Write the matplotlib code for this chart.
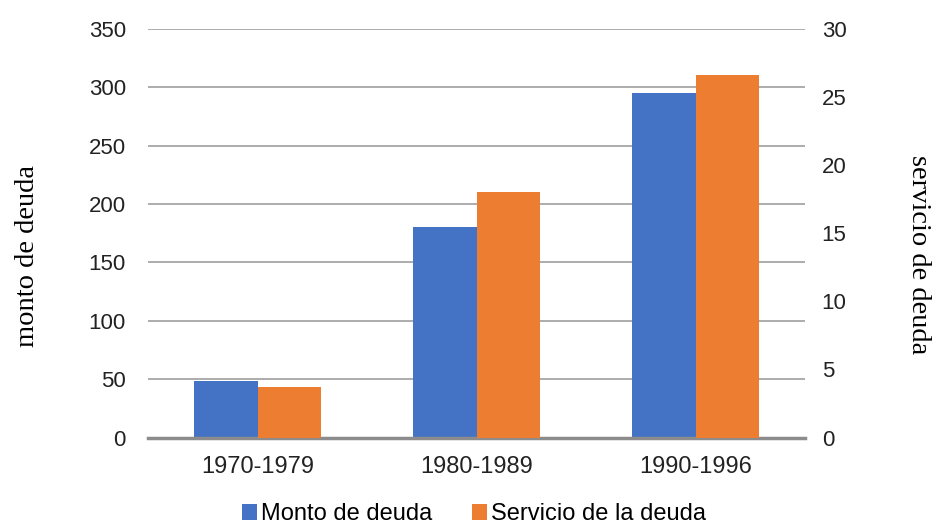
import matplotlib
matplotlib.use("Agg")
import matplotlib.pyplot as plt
import numpy as np

categories = ["1970-1979", "1980-1989", "1990-1996"]
monto = [48, 180, 295]
servicio = [3.7, 18.0, 26.6]
left_ticks = [0, 50, 100, 150, 200, 250, 300, 350]
right_ticks = [0, 5, 10, 15, 20, 25, 30]

blue = "#4472C4"
orange = "#ED7D31"

W, H = 932, 527
fig = plt.figure(figsize=(W/100, H/100), dpi=100)
ax = fig.add_axes([148/W, 1-437.5/H, (805-148)/W, (437.5-29)/H])
ax2 = ax.twinx()

x = np.arange(len(categories))
w = 0.288
ax.bar(x - w/2, monto, width=w, color=blue, label="Monto de deuda", zorder=3)
ax2.bar(x + w/2, servicio, width=w, color=orange, label="Servicio de la deuda", zorder=3)

ax.set_xlim(-0.5, 2.5)
ax.set_ylim(0, 350)
ax2.set_ylim(0, 30)
ax.set_yticks(left_ticks)
ax2.set_yticks(right_ticks)
ax.set_xticks(x)
ax.set_xticklabels(categories)

for lab in ax.get_yticklabels() + ax2.get_yticklabels():
    lab.set_fontfamily("Liberation Sans")
    lab.set_fontsize(16)
    lab.set_color("#222222")
for lab in ax.get_xticklabels():
    lab.set_fontfamily("Liberation Sans")
    lab.set_fontsize(17)
    lab.set_color("#222222")

ax.tick_params(axis="y", length=0, pad=16)
ax2.tick_params(axis="y", length=0, pad=12)
ax.tick_params(axis="x", length=0, pad=13)

ax.grid(axis="y", color="#A6A6A6", linewidth=1.3, zorder=0)
ax.set_axisbelow(True)
for s in ["top", "right", "left"]:
    ax.spines[s].set_visible(False)
    ax2.spines[s].set_visible(False)
ax2.spines["bottom"].set_visible(False)
ax.spines["bottom"].set_color("#8C8C8C")
ax.spines["bottom"].set_linewidth(2.5)
ax.spines["bottom"].set_zorder(5)

fig.text(28/W, 1-256/H, "monto de deuda", fontfamily="Liberation Serif", fontsize=20.5,
         rotation=90, ha="center", va="center")
fig.text(918/W, 1-255/H, "servicio de deuda", fontfamily="Liberation Serif", fontsize=20.5,
         rotation=270, ha="center", va="center")

h1, l1 = ax.get_legend_handles_labels()
h2, l2 = ax2.get_legend_handles_labels()
fig.legend(h1 + h2, l1 + l2, loc="center", bbox_to_anchor=(0.5 + 8/W, 1-514/H), ncol=2,
           frameon=False, prop=dict(family="Liberation Sans", size=17),
           handlelength=0.64, handleheight=0.64, handletextpad=0.2, columnspacing=1.65,
           borderpad=0, borderaxespad=0)

fig.savefig("out.png", dpi=100)
